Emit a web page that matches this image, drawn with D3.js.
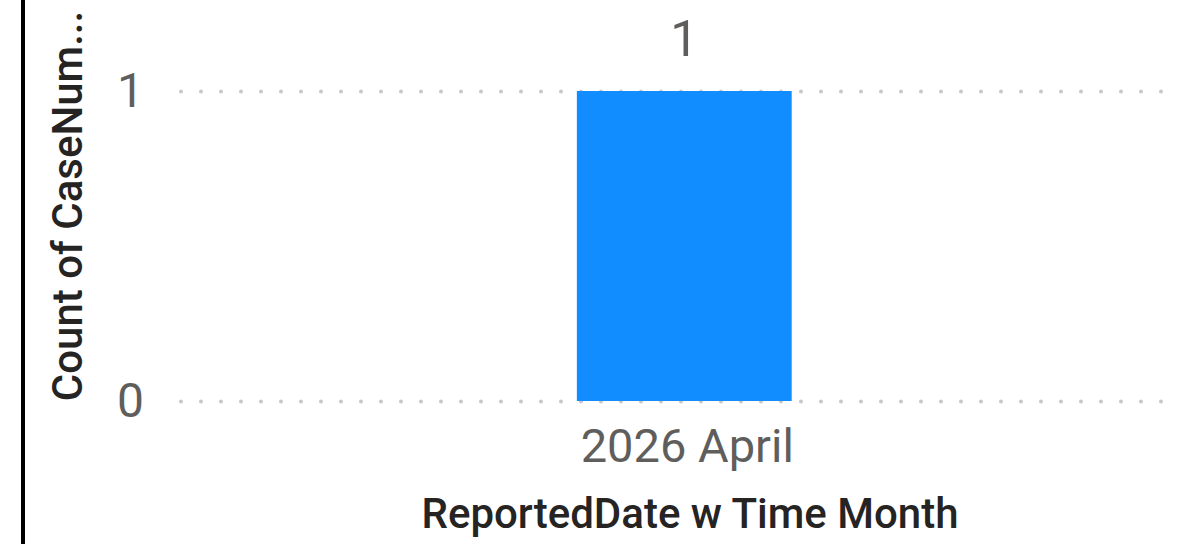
<!DOCTYPE html>
<html>
<head>
<meta charset="utf-8">
<script src="https://cdn.jsdelivr.net/npm/d3@7"></script>
<style>
  html, body { margin: 0; padding: 0; background: #fff; }
  svg { display: block; }
</style>
</head>
<body>
<div id="chart-area"></div>
<script>
const categories = ["2026 April"];
const counts = [1];
const yTicks = [0, 1];
const xTitle = "ReportedDate w Time Month";
const yTitle = "Count of CaseNum...";

const width = 1178;
const height = 544;

const svg = d3.select("#chart-area")
    .append("svg")
    .attr("width", width)
    .attr("height", height);

// dark frame edge on the left
svg.append("rect")
    .attr("x", 21).attr("y", 0)
    .attr("width", 4).attr("height", height)
    .attr("fill", "#000");

const xScale = d3.scaleBand()
    .domain(categories)
    .range([181, 1163])
    .padding(0.641)
    .align(0.516);

const yScale = d3.scaleLinear()
    .domain([0, 1])
    .range([401, 91]);

// dotted gridlines
const yAxis = d3.axisLeft(yScale)
    .tickValues(yTicks)
    .tickSize(-(1163 - 181))
    .tickPadding(37)
    .tickFormat(d3.format("d"));

const yAxisGroup = svg.append("g")
    .attr("transform", "translate(181,0)")
    .call(yAxis);

yAxisGroup.select(".domain").remove();
yAxisGroup.selectAll(".tick line")
    .attr("stroke", "#C8C8C8")
    .attr("stroke-width", 4)
    .attr("stroke-linecap", "round")
    .attr("stroke-dasharray", "0 20");
yAxisGroup.selectAll(".tick text")
    .attr("fill", "#605E5C")
    .attr("font-family", "Roboto, sans-serif")
    .attr("font-size", 48);

// bars
svg.selectAll("rect.bar")
    .data(categories)
    .enter()
    .append("rect")
    .attr("class", "bar")
    .attr("x", d => xScale(d))
    .attr("width", xScale.bandwidth())
    .attr("y", (d, i) => yScale(counts[i]))
    .attr("height", (d, i) => yScale(0) - yScale(counts[i]))
    .attr("fill", "#118DFF");

// data labels
svg.selectAll("text.label")
    .data(categories)
    .enter()
    .append("text")
    .attr("class", "label")
    .attr("x", d => xScale(d) + xScale.bandwidth() / 2)
    .attr("y", (d, i) => yScale(counts[i]) - 35)
    .attr("text-anchor", "middle")
    .attr("fill", "#605E5C")
    .attr("font-family", "Roboto, sans-serif")
    .attr("font-size", 50)
    .text((d, i) => counts[i]);

// x axis labels
const xAxis = d3.axisBottom(xScale).tickSize(0).tickPadding(28);
const xAxisGroup = svg.append("g")
    .attr("transform", `translate(0,${yScale(0)})`)
    .call(xAxis);
xAxisGroup.select(".domain").remove();
xAxisGroup.selectAll(".tick text")
    .attr("dx", 3)
    .attr("fill", "#605E5C")
    .attr("font-family", "Roboto, sans-serif")
    .attr("font-size", 47);

// axis titles
svg.append("text")
    .attr("x", 690)
    .attr("y", 528)
    .attr("text-anchor", "middle")
    .attr("fill", "#252423")
    .attr("font-family", "Roboto, sans-serif")
    .attr("font-weight", 500)
    .attr("font-size", 42)
    .text(xTitle);

svg.append("text")
    .attr("transform", "translate(82,206) rotate(-90)")
    .attr("text-anchor", "middle")
    .attr("fill", "#252423")
    .attr("font-family", "Roboto, sans-serif")
    .attr("font-weight", 500)
    .attr("font-size", 42)
    .text(yTitle);
</script>
</body>
</html>
